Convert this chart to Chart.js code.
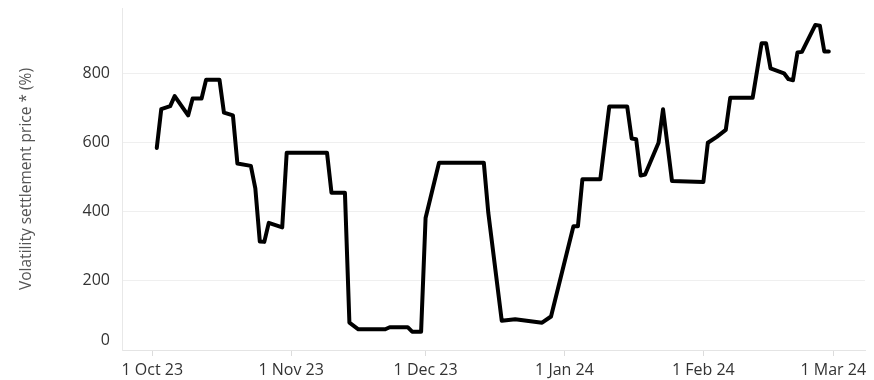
<!DOCTYPE html>
<html>
<head>
<meta charset="utf-8">
<script src="https://cdn.jsdelivr.net/npm/chart.js@4/dist/chart.umd.min.js"></script>
<style>
  html, body { margin: 0; padding: 0; background: #fff; }
  #wrap { width: 874px; height: 380px; }
</style>
</head>
<body>
<div id="wrap"><canvas id="c" width="874" height="380"></canvas></div>
<script>
// Settlement dates (turning points of the series)
const dates = [
  '2023-10-02','2023-10-03','2023-10-05','2023-10-06','2023-10-09','2023-10-10','2023-10-12','2023-10-13',
  '2023-10-16','2023-10-17','2023-10-19','2023-10-20','2023-10-23','2023-10-24','2023-10-25','2023-10-26',
  '2023-10-27','2023-10-30','2023-10-31','2023-11-09','2023-11-10','2023-11-13','2023-11-14','2023-11-16',
  '2023-11-22','2023-11-23','2023-11-27','2023-11-28','2023-11-30','2023-12-01','2023-12-04','2023-12-14',
  '2023-12-15','2023-12-18','2023-12-21','2023-12-27','2023-12-29','2024-01-03','2024-01-04','2024-01-05',
  '2024-01-09','2024-01-11','2024-01-15','2024-01-16','2024-01-17','2024-01-18','2024-01-19','2024-01-22',
  '2024-01-23','2024-01-25','2024-02-01','2024-02-02','2024-02-04','2024-02-06','2024-02-07','2024-02-12',
  '2024-02-14','2024-02-15','2024-02-16','2024-02-19','2024-02-20','2024-02-21','2024-02-22','2024-02-23',
  '2024-02-26','2024-02-27','2024-02-28','2024-02-29'
];

// Volatility settlement price (%)
const settlementPrice = [
  585, 697, 706, 735, 679, 728, 728, 782,
  782, 687, 679, 540, 533, 468, 314, 313,
  368, 355, 571, 571, 455, 455, 79, 60,
  60, 66, 66, 53, 53, 382, 542, 542,
  397, 85, 89, 79, 97, 358, 358, 494,
  494, 705, 705, 612, 610, 505, 508, 600,
  697, 489, 486, 600, 617, 637, 730, 730,
  888, 888, 815, 801, 784, 781, 861, 863,
  941, 939, 864, 864
];

// Axis ticks
const monthTicks = ['2023-10-01','2023-11-01','2023-12-01','2024-01-01','2024-02-01','2024-03-01'];
const monthTickLabels = ['1 Oct 23','1 Nov 23','1 Dec 23','1 Jan 24','1 Feb 24','1 Mar 24'];
const yTickValues = [0, 200, 400, 600, 800];

const DAY = 86400000;
const origin = Date.parse('2023-10-01');
const toDay = d => (Date.parse(d) - origin) / DAY;

const points = dates.map((d, i) => ({ x: toDay(d), y: settlementPrice[i] }));

const FONT = 'Open Sans';
const TICK_COLOR = '#333333';
const TICK_SIZE = 16;

// The bottom value label sits a little above its gridline
const zeroLabel = {
  id: 'zeroLabel',
  afterDraw(chart) {
    const y = chart.scales.y;
    const ctx = chart.ctx;
    ctx.save();
    ctx.font = TICK_SIZE + 'px "' + FONT + '"';
    ctx.fillStyle = TICK_COLOR;
    ctx.textAlign = 'right';
    ctx.textBaseline = 'middle';
    ctx.fillText('0', y.right - 12, y.getPixelForValue(0) - 10);
    ctx.restore();
  }
};

new Chart(document.getElementById('c'), {
  type: 'line',
  data: {
    datasets: [{
      data: points,
      borderColor: '#000000',
      borderWidth: 4,
      pointRadius: 0,
      tension: 0,
      fill: false,
      borderJoinStyle: 'round',
      borderCapStyle: 'round'
    }]
  },
  options: {
    responsive: false,
    animation: false,
    devicePixelRatio: 1,
    layout: { padding: { top: 0, right: 9, left: 0, bottom: 0 } },
    plugins: { legend: { display: false }, tooltip: { enabled: false } },
    scales: {
      x: {
        type: 'linear',
        min: -6.76,
        max: 159.08,
        afterBuildTicks: s => { s.ticks = monthTicks.map(d => ({ value: toDay(d) })); },
        afterFit: s => { s.height = 30; },
        ticks: {
          autoSkip: false,
          maxRotation: 0,
          padding: 5,
          color: TICK_COLOR,
          font: { family: FONT, size: TICK_SIZE },
          callback: (v, i) => monthTickLabels[i]
        },
        grid: { drawOnChartArea: false, drawTicks: true, tickLength: 6, color: '#dcdcdc' },
        border: { color: '#e4e4e4' }
      },
      y: {
        min: 0,
        max: 990,
        afterBuildTicks: s => { s.ticks = yTickValues.map(v => ({ value: v })); },
        afterFit: s => { s.width = 122; s.paddingTop = 8; s.paddingBottom = 0; },
        ticks: {
          padding: 12,
          font: { family: FONT, size: TICK_SIZE },
          color: ctx => ctx.tick && ctx.tick.value === 0 ? 'rgba(0,0,0,0)' : TICK_COLOR
        },
        grid: { color: '#efefef', drawTicks: false },
        border: { color: '#e8e8e8' },
        title: {
          display: true,
          text: 'Volatility settlement price * (%)',
          color: '#555555',
          font: { family: FONT, size: 15.5 },
          padding: { top: 17, bottom: 0 }
        }
      }
    }
  },
  plugins: [zeroLabel]
});
</script>
</body>
</html>
